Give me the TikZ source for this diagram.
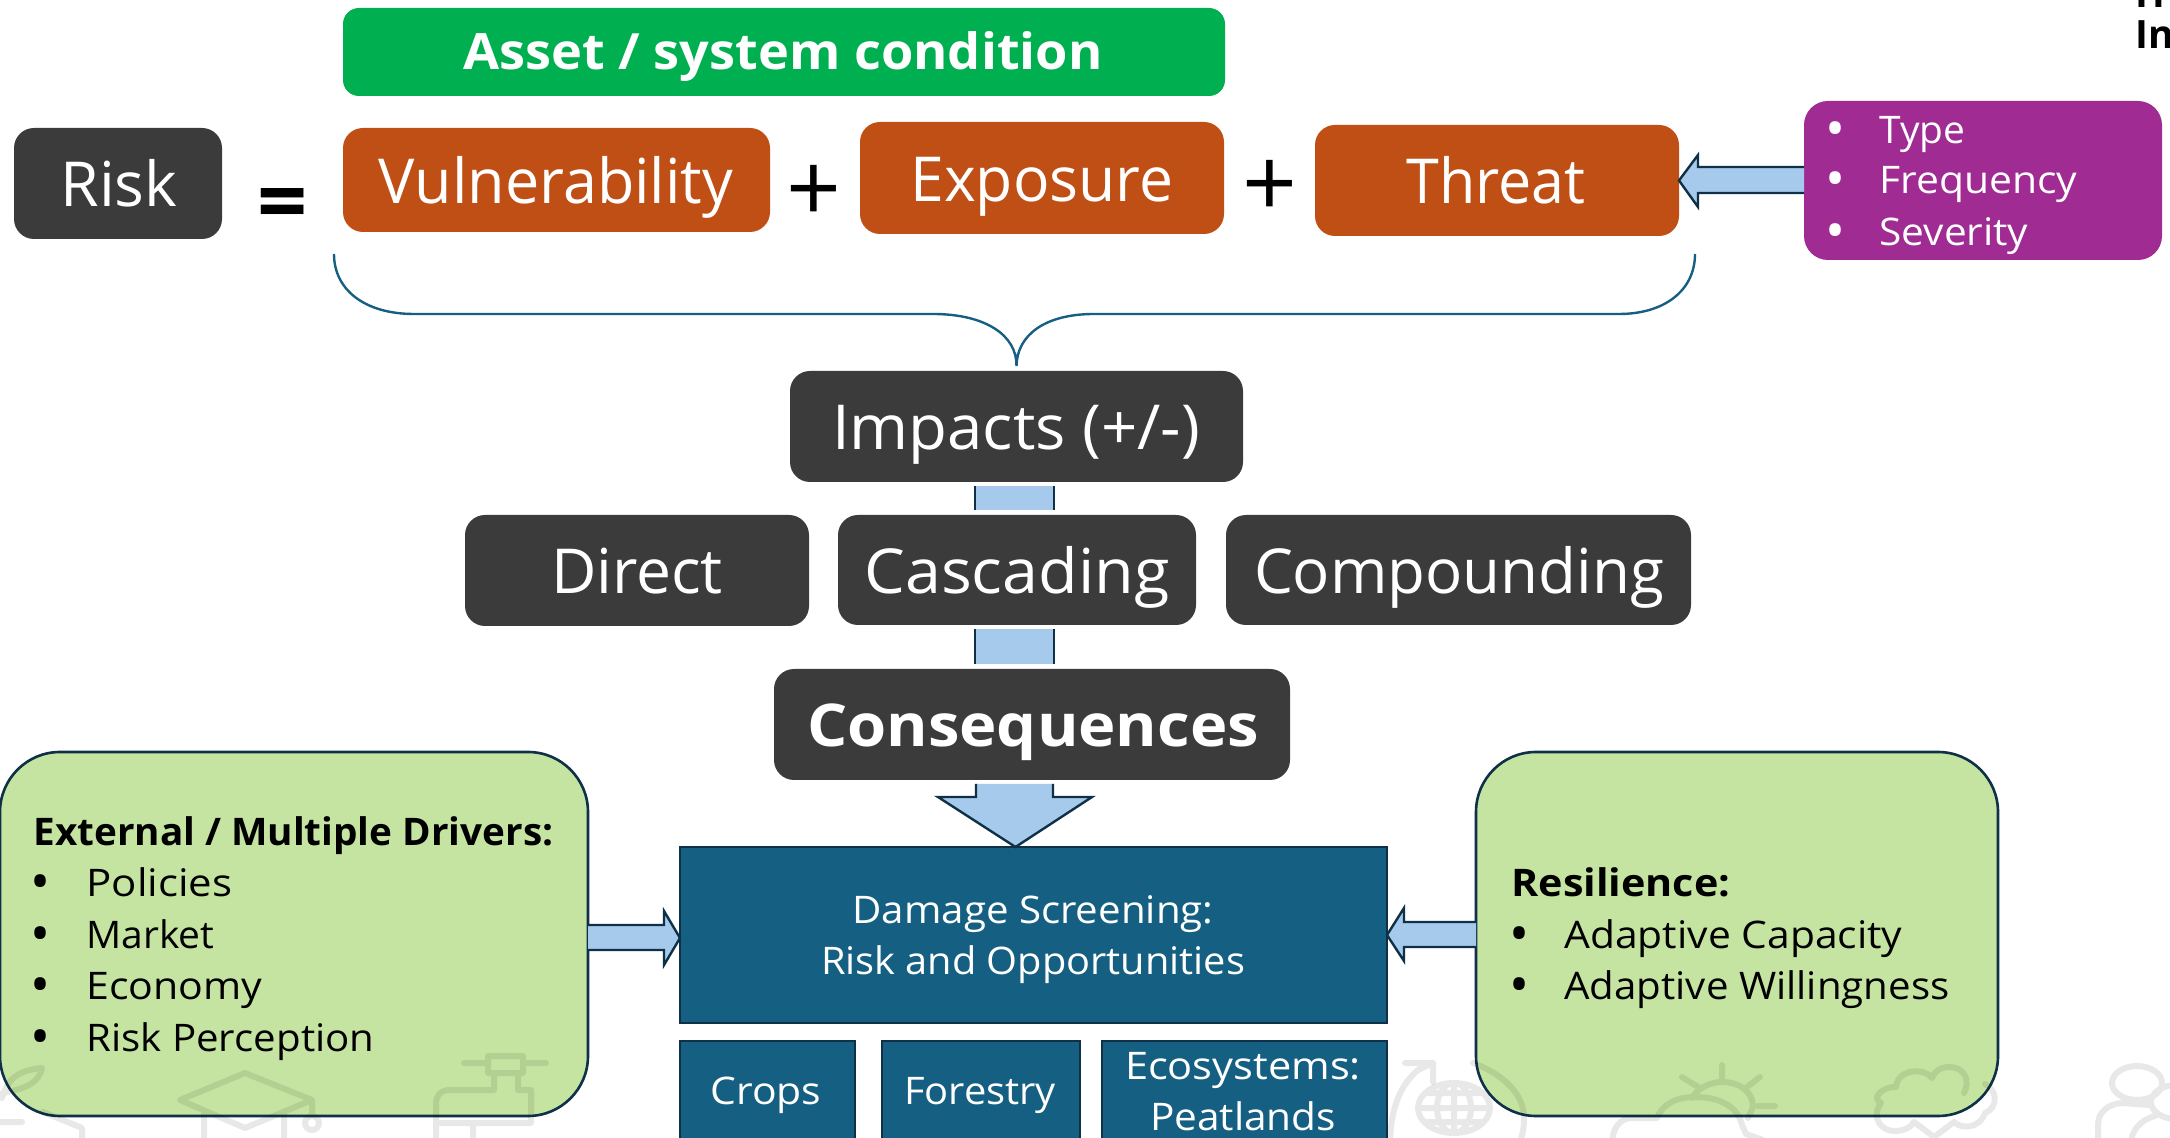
\documentclass[tikz,border=0pt]{standalone}
\usepackage{fontspec}
\usepackage{graphicx}
\setmainfont{Open Sans}
\usetikzlibrary{calc,fit}
\definecolor{darkbox}{HTML}{3B3B3B}
\definecolor{orangebox}{HTML}{BF4F14}
\definecolor{greenbar}{HTML}{00B050}
\definecolor{purplebox}{HTML}{A02B93}
\definecolor{tealbox}{HTML}{156082}
\definecolor{lightblue}{HTML}{A6CAEC}
\definecolor{lightgreen}{HTML}{C5E4A1}
\definecolor{navyline}{HTML}{0F3148}
\newdimen\pxu \pxu=0.5pt
\newcommand{\tw}[2]{\resizebox{#1\pxu}{\height}{#2}}
\newcommand{\bul}{\makebox[0pt][c]{\raisebox{-2pt}{\scalebox{1.4}{•}}}}
\tikzset{
  box/.style={inner sep=0pt,outer sep=0pt,rounded corners=10pt},
  darkrect/.style={box,fill=darkbox},
  orangerect/.style={box,fill=orangebox},
  greenrect/.style={box,fill=greenbar,rounded corners=8pt},
  purplerect/.style={box,fill=purplebox,rounded corners=12pt},
  driverrect/.style={box,fill=lightgreen,draw=navyline,line width=1.3pt,rounded corners=30pt},
  tealrect/.style={box,fill=tealbox,draw=navyline,line width=1.2pt,rounded corners=0pt},
  bigtext/.style={text=white,anchor=base,inner sep=0pt,yshift=-1pt,font=\fontsize{31}{37}\selectfont},
  boldbig/.style={text=white,anchor=base,inner sep=0pt,yshift=-1pt,font=\bfseries\fontsize{29.5}{35}\selectfont},
  barText/.style={text=white,anchor=base,inner sep=0pt,yshift=-0.5pt,font=\bfseries\fontsize{25}{30}\selectfont},
  smalltext/.style={anchor=base,inner sep=0pt,yshift=-0.5pt,font=\fontsize{19}{23}\selectfont},
  whitesmall/.style={smalltext,text=white},
  listline/.style={smalltext,anchor=base west},
  listhead/.style={smalltext,anchor=base west,font=\bfseries\fontsize{19}{23}\selectfont},
  bulletmark/.style={smalltext,anchor=base},
  opsign/.style={anchor=center,inner sep=0pt,text=black},
  blockarrow/.style={fill=lightblue,draw=navyline,line width=1.2pt,line join=miter},
  stubfill/.style={fill=lightblue},
  stubline/.style={draw=navyline,line width=1.2pt},
  bracket/.style={draw=tealbox,line width=1.2pt},
  icon/.style={draw=black,opacity=0.09,line width=3pt,line cap=round,line join=round},
}
\begin{document}
\begin{tikzpicture}[x=0.5pt,y=-0.5pt]
\useasboundingbox (0,0) rectangle (2170,1138);
\clip (0,0) rectangle (2170,1138);
% boxes
\node[greenrect,fit={(343,8)(1225,96)}] (cond) {};
\node[darkrect,fit={(14,128)(222,239)}] (risk) {};
\node[orangerect,fit={(343,128)(770,232)}] (vuln) {};
\node[orangerect,fit={(860,122)(1224,234)}] (expo) {};
\node[orangerect,fit={(1315,125)(1679,236)}] (threat) {};
\node[purplerect,fit={(1804,101)(2162,260)}] (hazard) {};
\node[darkrect,fit={(790,371)(1243,482)}] (impacts) {};
\node[darkrect,fit={(465,515)(809,626)}] (direct) {};
\node[darkrect,fit={(838,515)(1196,625)}] (cascading) {};
\node[darkrect,fit={(1226,515)(1691,625)}] (compounding) {};
\node[darkrect,fit={(774,669)(1290,780)}] (conseq) {};
\node[driverrect,fit={(0,752)(588,1116)}] (drivers) {};
\node[driverrect,fit={(1476,752)(1998,1116)}] (resil) {};
\node[tealrect,fit={(680,847)(1387,1023)}] (damage) {};
\node[tealrect,fit={(680,1041)(855,1150)}] (crops) {};
\node[tealrect,fit={(882,1041)(1080,1150)}] (forestry) {};
\node[tealrect,fit={(1102,1041)(1387,1150)}] (eco) {};
% faint icons
\draw[icon] (0,1094) .. controls (14,1090) and (38,1088) .. (42,1068) .. controls (22,1070) and (8,1076) .. (2,1098) (0,1122) -- (22,1122) (43,1112) -- (82,1128) -- (82,1145);
\draw[icon] (245,1073) -- (312,1100) -- (245,1128) -- (180,1100) -- cycle (204,1113) -- (204,1145) (284,1113) -- (284,1145) (312,1100) -- (312,1115) (319,1123) arc (0:360:7);
\draw[icon] (464,1063) -- (484,1063) (527,1063) -- (546,1063) (488,1056) -- (523,1056) -- (523,1073) -- (488,1073) -- cycle (494,1073) -- (494,1090) -- (450,1090) .. controls (440,1090) and (436,1096) .. (436,1104) -- (436,1145) (518,1073) -- (518,1090) -- (531,1090) -- (531,1123) -- (436,1123) (473,1123) -- (473,1145);
\draw[icon] (1390,1145) .. controls (1390,1110) and (1400,1085) .. (1418,1070) (1405,1063) -- (1433,1063) -- (1433,1082) (1433,1063) -- (1418,1070) (1473,1063) .. controls (1505,1075) and (1524,1095) .. (1524,1118) .. controls (1524,1130) and (1522,1138) .. (1518,1145);
\draw[icon] (1454,1108) ellipse [x radius=36,y radius=25] (1454,1083) -- (1454,1133) (1418,1108) -- (1490,1108) (1454,1108) ellipse [x radius=17,y radius=25] (1426,1093) -- (1482,1093) (1426,1122) -- (1482,1122);
\draw[icon] (1722,1065) -- (1722,1078) (1682,1077) -- (1698,1087) (1760,1077) -- (1747,1087) (1758,1106) -- (1775,1106) (1692,1098) .. controls (1698,1088) and (1710,1082) .. (1722,1082) .. controls (1740,1082) and (1753,1092) .. (1753,1107) -- (1748,1118) (1612,1145) .. controls (1612,1128) and (1620,1118) .. (1632,1118) -- (1657,1118) .. controls (1662,1105) and (1675,1097) .. (1695,1097) .. controls (1722,1097) and (1738,1108) .. (1742,1125) -- (1746,1134) -- (1763,1140);
\draw[icon] (1964,1093) .. controls (1970,1082) and (1966,1067) .. (1949,1067) .. controls (1940,1067) and (1934,1072) .. (1932,1078) .. controls (1925,1068) and (1898,1068) .. (1896,1087) .. controls (1884,1086) and (1870,1098) .. (1881,1103) .. controls (1870,1118) and (1882,1131) .. (1894,1131) .. controls (1904,1131) and (1910,1128) .. (1914,1122) -- (1934,1137) -- (1954,1122) .. controls (1962,1130) and (1980,1128) .. (1985,1113) .. controls (1998,1108) and (1998,1090) .. (1985,1084) (1934,1137) -- (1934,1145);
\draw[icon] (2137,1083) ellipse [x radius=25,y radius=17] (2098,1145) -- (2098,1125) .. controls (2098,1112) and (2108,1104) .. (2122,1103) -- (2150,1105) (2176,1102) ellipse [x radius=25,y radius=17] (2130,1145) .. controls (2132,1130) and (2140,1120) .. (2155,1116);
% brace
\draw[bracket] (334,254) .. controls (334,290) and (365,314) .. (414,314) -- (933,314) .. controls (985,314) and (1017,335) .. ($(impacts.north)+(0,-5)$) .. controls (1017,335) and (1045,314) .. (1094,314) -- (1619,314) .. controls (1665,314) and (1695,290) .. (1695,254);
% block arrows
\path[blockarrow] (hazard.west |- 0,167) -- (1698,167) -- (1698,155) -- (threat.east) -- (1698,207) -- (1698,193) -- (hazard.west |- 0,193);
\path[blockarrow] (drivers.east |- 0,925) -- (664,925) -- (664,911) -- ($(damage.west)+(0,3)$) -- (664,965) -- (664,950) -- (drivers.east |- 0,950);
\path[blockarrow] (resil.west |- 0,922) -- (1404,922) -- (1404,908) -- (damage.east) -- (1404,961) -- (1404,947) -- (resil.west |- 0,947);
\path[blockarrow] ($(conseq.south)+(-56,4)$) -- (976,797) -- (938,797) -- ($(damage.north)+(-18,0)$) -- (1092,797) -- (1053,797) -- ($(conseq.south)+(21,4)$);
\fill[stubfill] ($(impacts.south)+(-41.5,4)$) rectangle ($(cascading.north)+(37,-5)$);
\draw[stubline] ($(impacts.south)+(-41.5,4)$) -- ($(cascading.north)+(-42,-5)$) ($(impacts.south)+(37.5,4)$) -- ($(cascading.north)+(37,-5)$);
\fill[stubfill] ($(cascading.south)+(-42,4)$) rectangle ($(conseq.north)+(22,-5)$);
\draw[stubline] ($(cascading.south)+(-42,4)$) -- ($(conseq.north)+(-57,-5)$) ($(cascading.south)+(37,4)$) -- ($(conseq.north)+(22,-5)$);
% texts
\node[barText] (tcond) at (783,69) {\tw{639}{Asset / system condition}};
\node[bigtext] (trisk) at (119,205) {\tw{117}{Risk}};
\node[bigtext] (tvuln) at (556,202) {\tw{354}{Vulnerability}};
\node[bigtext] (texpo) at (1042,200) {\tw{263}{Exposure}};
\node[bigtext] (tthreat) at (1496,202) {\tw{179}{Threat}};
\node[opsign,font=\bfseries\fontsize{44}{50}\selectfont] (eqsign) at (283,211) {=};
\node[opsign,font=\fontsize{48}{52}\selectfont] (plusa) at (814,194) {+};
\node[opsign,font=\fontsize{48}{52}\selectfont] (plusb) at (1270,189) {+};
\node[bigtext] (timpacts) at (1016,448) {\tw{368}{Impacts (+/-)}};
\node[bigtext] (tdirect) at (637,592) {\tw{172}{Direct}};
\node[bigtext] (tcascading) at (1017,592) {\tw{305}{Cascading}};
\node[bigtext] (tcompounding) at (1459,592) {\tw{410}{Compounding}};
\node[boldbig] (tconseq) at (1033,745) {\tw{452}{Consequences}};
% hazard list
\node[bulletmark,text=white] (ba) at (1835,143) {\bul};
\node[bulletmark,text=white] (bb) at (1835,193) {\bul};
\node[bulletmark,text=white] (bc) at (1835,245) {\bul};
\node[listline,text=white] (ta) at (1879,143) {\tw{86}{Type}};
\node[listline,text=white] (tb) at (1879,193) {\tw{198}{Frequency}};
\node[listline,text=white] (tc) at (1879,245) {\tw{149}{Severity}};
% drivers list
\node[listhead] (dh) at (33,844) {\tw{520}{External / Multiple Drivers:}};
\node[bulletmark] (d1b) at (40,895) {\bul};
\node[bulletmark] (d2b) at (40,947) {\bul};
\node[bulletmark] (d3b) at (40,998) {\bul};
\node[bulletmark] (d4b) at (40,1050) {\bul};
\node[listline] (d1) at (86,895) {\tw{146}{Policies}};
\node[listline] (d2) at (86,947) {\tw{128}{Market}};
\node[listline] (d3) at (86,998) {\tw{176}{Economy}};
\node[listline] (d4) at (86,1050) {\tw{288}{Risk Perception}};
% resilience list
\node[listhead] (rh) at (1511,895) {\tw{219}{Resilience:}};
\node[bulletmark] (r1b) at (1519,947) {\bul};
\node[bulletmark] (r2b) at (1519,998) {\bul};
\node[listline] (r1) at (1564,947) {\tw{338}{Adaptive Capacity}};
\node[listline] (r2) at (1564,998) {\tw{385}{Adaptive Willingness}};
% teal texts
\node[whitesmall] (tdam) at (1033,922) {\tw{361}{Damage Screening:}};
\node[whitesmall] (tro) at (1033,973) {\tw{424}{Risk and Opportunities}};
\node[whitesmall] (tcrops) at (766,1103) {\tw{111}{Crops}};
\node[whitesmall] (tforest) at (980,1103) {\tw{152}{Forestry}};
\node[whitesmall] (teco) at (1243,1078) {\tw{236}{Ecosystems:}};
\node[whitesmall] (tpeat) at (1243,1129) {\tw{186}{Peatlands}};
% cut-off heading at top right
\node[anchor=base west,inner sep=0pt,font=\bfseries\fontsize{19.5}{23}\selectfont] (headb) at (2135,8) {H};
\node[anchor=base west,inner sep=0pt,font=\bfseries\fontsize{19.5}{23}\selectfont] (headc) at (2135,49) {In};
\end{tikzpicture}
\end{document}
